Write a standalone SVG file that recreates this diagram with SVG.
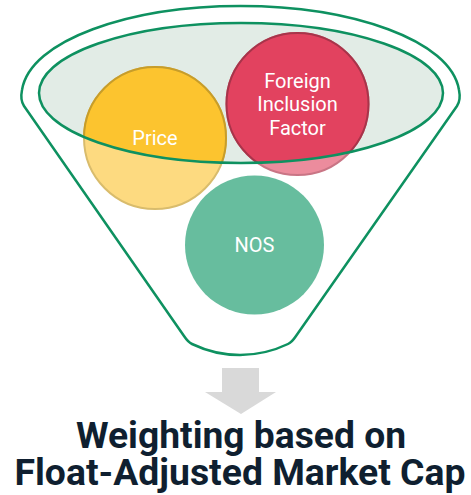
<svg xmlns="http://www.w3.org/2000/svg" width="471" height="495" viewBox="0 0 471 495">
<style>
.lbl{font-family:Roboto,"Liberation Sans",sans-serif;font-size:20px;fill:#ffffff;text-anchor:middle}
.title{font-family:Roboto,"Liberation Sans",sans-serif;font-size:36px;font-weight:bold;fill:#0f1f30;text-anchor:middle}
.funnel{fill:none;stroke:#0e9160;stroke-width:2.5}
</style>
<defs>
<clipPath id="inner"><ellipse cx="241" cy="93" rx="202" ry="70"/></clipPath>
</defs>
<g id="funnel">
<path class="funnel" d="M24,106 Q20,100 22,90 C30,40 130,6 240.5,6 C351,6 451,40 459,90 Q461,100 457,106 L296,336 Q292,342 288,344 Q265,355 240,355 Q215,355 192,344 Q188,342 184,336 Z"/>
</g>
<g id="inner-ellipse">
<ellipse cx="241" cy="93" rx="202" ry="70" fill="#e2ece6"/>
</g>
<g id="price">
<circle cx="155" cy="138" r="71" fill="#fdda80" stroke="#d9bc6c" stroke-width="2"/>
<circle cx="155" cy="138" r="71" fill="#fcc42f" stroke="#c79d2a" stroke-width="2" clip-path="url(#inner)"/>
<text class="lbl" x="155" y="145">Price</text>
</g>
<g id="foreign">
<circle cx="297.5" cy="104" r="71" fill="#ec8c9d" stroke="#c97585" stroke-width="2"/>
<circle cx="297.5" cy="104" r="71" fill="#e2425f" stroke="#a8344a" stroke-width="2" clip-path="url(#inner)"/>
<text class="lbl" x="297.5" y="88">Foreign</text>
<text class="lbl" x="297.5" y="111">Inclusion</text>
<text class="lbl" x="297.5" y="135">Factor</text>
</g>
<g id="inner-outline">
<ellipse cx="241" cy="93" rx="202" ry="70" class="funnel"/>
</g>
<g id="nos">
<circle cx="254.5" cy="245" r="69.5" fill="#67bd9e"/>
<text class="lbl" x="254.5" y="252">NOS</text>
</g>
<g id="connectors">
<path d="M222,368 L259,368 L259,392 L276,392 L241,414 L205,392 L222,392 Z" fill="#d9d9d9"/>
</g>
<g id="result">
<text class="title" x="241" y="448" textLength="330" lengthAdjust="spacingAndGlyphs">Weighting based on</text>
<text class="title" x="240" y="485" textLength="451" lengthAdjust="spacingAndGlyphs">Float-Adjusted Market Cap</text>
</g>
</svg>
